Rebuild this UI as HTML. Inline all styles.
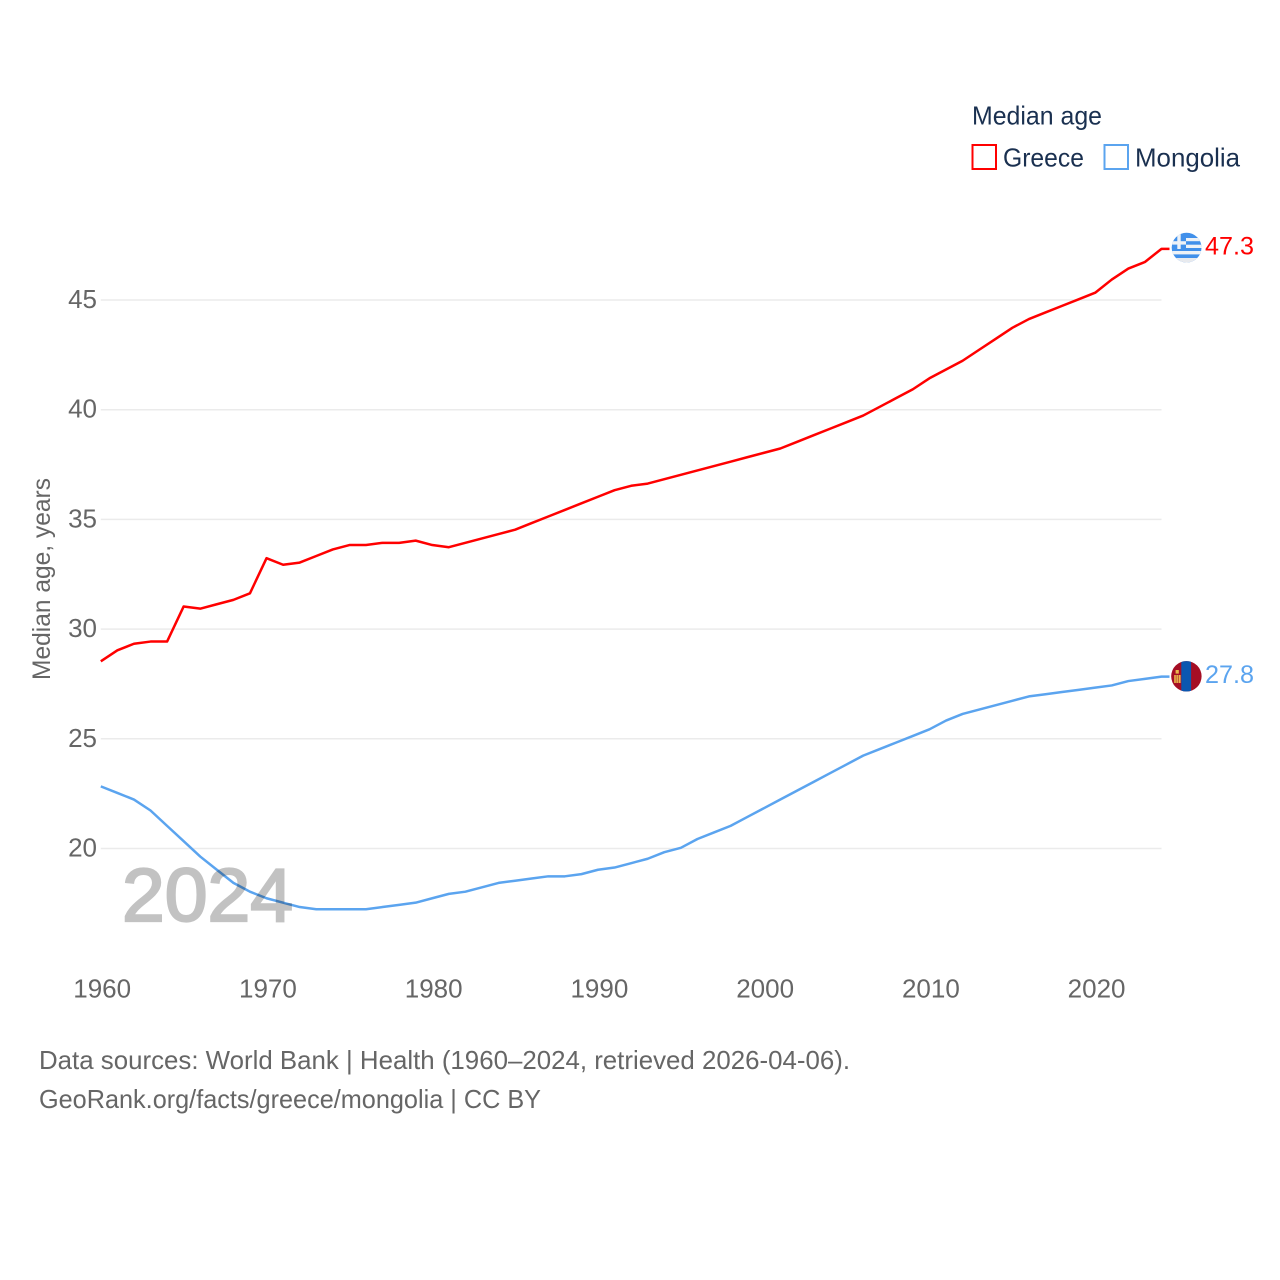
<!DOCTYPE html>
<html lang="en">
<head>
<meta charset="utf-8">
<title>Median age: Greece and Mongolia</title>
<style>
html,body{margin:0;padding:0;background:#fff}
svg{display:block}
text{font-family:"Liberation Sans",sans-serif}
</style>
</head>
<body>
<svg id="chart" xmlns="http://www.w3.org/2000/svg" width="1280" height="1280" viewBox="0 0 1280 1280">
  <defs>
    <clipPath id="flag-clip-greece"><circle cx="1186.6" cy="247.6" r="14.9"/></clipPath>
    <clipPath id="flag-clip-mongolia"><circle cx="1186.4" cy="676.3" r="15.2"/></clipPath>
  </defs>
  <rect width="1280" height="1280" fill="#fff"/>

  <g id="grid"></g>
  <g id="y-ticks"></g>
  <g id="x-ticks"></g>

  <text transform="translate(50,680) rotate(-90)" font-size="25" fill="#666" textLength="202" lengthAdjust="spacingAndGlyphs">Median age, years</text>

  <path id="line-greece" fill="none" stroke="#ff0000" stroke-width="2.5" stroke-linejoin="round"/>
  <path id="line-mongolia" fill="none" stroke="#5ba4ef" stroke-width="2.5" stroke-linejoin="round"/>

  <text x="122" y="921" font-size="75" font-weight="400" fill="#c2c2c2" stroke="#c2c2c2" stroke-width="2.2" textLength="171" lengthAdjust="spacingAndGlyphs" style="mix-blend-mode:multiply">2024</text>

  <g clip-path="url(#flag-clip-greece)">
    <rect x="1171" y="232" width="31" height="31" fill="#4190ea"/>
    <rect x="1186" y="238" width="16" height="3.2" fill="#eef2f6"/>
    <rect x="1186" y="244.7" width="16" height="3.3" fill="#eef2f6"/>
    <rect x="1171" y="251" width="31" height="3.4" fill="#eef2f6"/>
    <rect x="1171" y="258" width="31" height="5" fill="#e8eaee"/>
    <rect x="1171" y="241.2" width="15" height="3.4" fill="#eef2f6"/>
    <rect x="1177.3" y="234" width="3.4" height="15" fill="#eef2f6"/>
  </g>
  <g clip-path="url(#flag-clip-mongolia)">
    <rect x="1171" y="660" width="31" height="33" fill="#a50e24"/>
    <rect x="1181.3" y="660" width="9.8" height="33" fill="#0b57b0"/>
    <rect x="1174.2" y="675" width="1.6" height="8" fill="#eab84c"/>
    <rect x="1179" y="675" width="1.6" height="8" fill="#eab84c"/>
    <rect x="1176.3" y="675" width="2.2" height="8" fill="#e2a948"/>
    <rect x="1175.6" y="670" width="3.2" height="3.6" fill="#eab84c"/>
  </g>

  <text x="1205" y="254.5" font-size="25" fill="#ff0000" textLength="49" lengthAdjust="spacingAndGlyphs">47.3</text>
  <text x="1205" y="683" font-size="25" fill="#5ba4ef" textLength="49" lengthAdjust="spacingAndGlyphs">27.8</text>

  <g>
    <text x="972" y="124.5" font-size="26" fill="#1a3050" textLength="130" lengthAdjust="spacingAndGlyphs">Median age</text>
    <rect x="972.5" y="145" width="23.5" height="24" fill="none" stroke="#ff0000" stroke-width="2"/>
    <text x="1003" y="166.5" font-size="26" fill="#1a3050" textLength="81" lengthAdjust="spacingAndGlyphs">Greece</text>
    <rect x="1104.5" y="145" width="23.5" height="24" fill="none" stroke="#5ba4ef" stroke-width="2"/>
    <text x="1135" y="166.5" font-size="26" fill="#1a3050" textLength="105" lengthAdjust="spacingAndGlyphs">Mongolia</text>
  </g>

  <text x="39" y="1069" font-size="26" fill="#666" textLength="811" lengthAdjust="spacingAndGlyphs">Data sources: World Bank | Health (1960–2024, retrieved 2026-04-06).</text>
  <text x="39" y="1108" font-size="26" fill="#666" textLength="502" lengthAdjust="spacingAndGlyphs">GeoRank.org/facts/greece/mongolia | CC BY</text>
</svg>
<script>
const years = [1960,1961,1962,1963,1964,1965,1966,1967,1968,1969,1970,1971,1972,1973,1974,1975,1976,1977,1978,1979,1980,1981,1982,1983,1984,1985,1986,1987,1988,1989,1990,1991,1992,1993,1994,1995,1996,1997,1998,1999,2000,2001,2002,2003,2004,2005,2006,2007,2008,2009,2010,2011,2012,2013,2014,2015,2016,2017,2018,2019,2020,2021,2022,2023,2024];
const greece = [28.5,29.0,29.3,29.4,29.4,31.0,30.9,31.1,31.3,31.6,33.2,32.9,33.0,33.3,33.6,33.8,33.8,33.9,33.9,34.0,33.8,33.7,33.9,34.1,34.3,34.5,34.8,35.1,35.4,35.7,36.0,36.3,36.5,36.6,36.8,37.0,37.2,37.4,37.6,37.8,38.0,38.2,38.5,38.8,39.1,39.4,39.7,40.1,40.5,40.9,41.4,41.8,42.2,42.7,43.2,43.7,44.1,44.4,44.7,45.0,45.3,45.9,46.4,46.7,47.3];
const mongolia = [22.8,22.5,22.2,21.7,21.0,20.3,19.6,19.0,18.4,18.0,17.7,17.5,17.3,17.2,17.2,17.2,17.2,17.3,17.4,17.5,17.7,17.9,18.0,18.2,18.4,18.5,18.6,18.7,18.7,18.8,19.0,19.1,19.3,19.5,19.8,20.0,20.4,20.7,21.0,21.4,21.8,22.2,22.6,23.0,23.4,23.8,24.2,24.5,24.8,25.1,25.4,25.8,26.1,26.3,26.5,26.7,26.9,27.0,27.1,27.2,27.3,27.4,27.6,27.7,27.8];
const yTickValues = [20,25,30,35,40,45];
const xTickValues = [1960,1970,1980,1990,2000,2010,2020];

const SVG_NS = 'http://www.w3.org/2000/svg';
const xScale = function (year) { return 100.8 + (year - 1960) * (1095.2 - 100.8) / 60; };
const yScale = function (value) { return 847.8 - (value - 20) * (847.8 - 299.3) / 25; };

const gridGroup = document.getElementById('grid');
const yTickGroup = document.getElementById('y-ticks');
const xTickGroup = document.getElementById('x-ticks');

yTickValues.forEach(function (tick) {
  const line = document.createElementNS(SVG_NS, 'line');
  
  
  line.setAttribute('x1', xScale(1960));
  line.setAttribute('x2', xScale(2024));
  line.setAttribute('y1', yScale(tick) + 0.7);
  line.setAttribute('y2', yScale(tick) + 0.7);
  line.setAttribute('stroke', '#ebebeb');
  line.setAttribute('stroke-width', '1.5');
  gridGroup.appendChild(line);

  const label = document.createElementNS(SVG_NS, 'text');
  
  
  label.setAttribute('x', 97);
  label.setAttribute('y', yScale(tick) + 8.7);
  label.setAttribute('text-anchor', 'end');
  label.setAttribute('font-size', '26');
  label.setAttribute('fill', '#666');
  label.textContent = tick;
  yTickGroup.appendChild(label);
});

xTickValues.forEach(function (tick) {
  const label = document.createElementNS(SVG_NS, 'text');
  
  
  label.setAttribute('x', xScale(tick) + 1.4);
  label.setAttribute('y', 997.5);
  label.setAttribute('text-anchor', 'middle');
  label.setAttribute('font-size', '26');
  label.setAttribute('fill', '#666');
  label.textContent = tick;
  xTickGroup.appendChild(label);
});

function linePath(values) {
  let d = values.map(function (v, i) {
    return (i ? 'L' : 'M') + xScale(years[i]).toFixed(2) + ' ' + yScale(v).toFixed(2);
  }).join(' ');
  d += ' L' + (xScale(years[years.length - 1]) + 8).toFixed(2) + ' ' + yScale(values[values.length - 1]).toFixed(2);
  return d;
}
document.getElementById('line-greece').setAttribute('d', linePath(greece));
document.getElementById('line-mongolia').setAttribute('d', linePath(mongolia));
</script>
</body>
</html>
